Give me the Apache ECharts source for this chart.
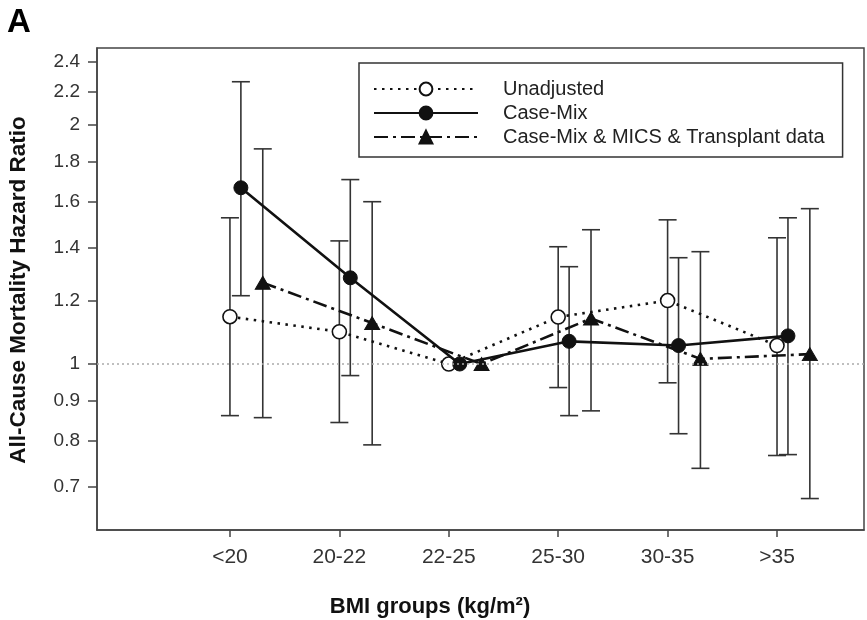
<!DOCTYPE html>
<html>
<head>
<meta charset="utf-8">
<script src="https://cdn.jsdelivr.net/npm/echarts@6/dist/echarts.min.js"></script>
<style>
  html, body { margin: 0; padding: 0; background: #fff; }
  #chart { width: 867px; height: 620px; }
</style>
</head>
<body>
<div id="chart"></div>
<script>
// BMI groups on the x axis
const categories = ['<20', '20-22', '22-25', '25-30', '30-35', '>35'];

// Hazard ratio tick labels (log scale)
const yTicks = [0.7, 0.8, 0.9, 1, 1.2, 1.4, 1.6, 1.8, 2, 2.2, 2.4];

// Reference hazard ratio
const refLine = 1;

// Series names
const seriesNames = ['Unadjusted', 'Case-Mix', 'Case-Mix & MICS & Transplant data'];

// Unadjusted: hazard ratio with 95% CI
const unadj   = [1.147, 1.098, 1.0, 1.146, 1.202, 1.055];
const unadjLo = [0.861, 0.844, null, 0.934, 0.947, 0.767];
const unadjHi = [1.528, 1.429, null, 1.405, 1.519, 1.442];

// Case-mix adjusted
const caseMix   = [1.667, 1.284, 1.0, 1.068, 1.055, 1.085];
const caseMixLo = [1.219, 0.967, null, 0.861, 0.817, 0.769];
const caseMixHi = [2.267, 1.707, null, 1.326, 1.361, 1.528];

// Case-mix + MICS + transplant adjusted
const full   = [1.266, 1.126, 1.0, 1.141, 1.015, 1.029];
const fullLo = [0.856, 0.791, null, 0.873, 0.739, 0.677];
const fullHi = [1.866, 1.601, null, 1.476, 1.385, 1.569];

// Horizontal shift of each series within a group (in category units)
const shift = [0, 0.1, 0.3];

const FONT = '"Liberation Sans", Arial, Helvetica, sans-serif';
const INK = '#111';

function points(values, dx) {
  return values.map((v, i) => [i + dx, v]);
}
function bars(lo, hi, dx) {
  const out = [];
  lo.forEach((l, i) => { if (l != null && hi[i] != null) out.push([i + dx, l, hi[i]]); });
  return out;
}

// Vertical confidence-interval bar with end caps
function errorBarItem(params, api) {
  const x = api.value(0);
  const bot = api.coord([x, api.value(1)]);
  const top = api.coord([x, api.value(2)]);
  const hw = 9;
  const style = { stroke: '#333', lineWidth: 1.6 };
  return {
    type: 'group',
    children: [
      { type: 'line', shape: { x1: top[0], y1: top[1], x2: bot[0], y2: bot[1] }, style },
      { type: 'line', shape: { x1: top[0] - hw, y1: top[1], x2: top[0] + hw, y2: top[1] }, style },
      { type: 'line', shape: { x1: bot[0] - hw, y1: bot[1], x2: bot[0] + hw, y2: bot[1] }, style }
    ]
  };
}

function errorSeries(lo, hi, dx) {
  return {
    type: 'custom',
    renderItem: errorBarItem,
    data: bars(lo, hi, dx),
    encode: { x: 0, y: [1, 2] },
    z: 1,
    silent: true
  };
}

const chart = echarts.init(document.getElementById('chart'), null, { renderer: 'canvas' });

chart.setOption({
  animation: false,
  backgroundColor: '#fff',
  textStyle: { fontFamily: FONT },
  grid: {
    left: 97, right: 3, top: 48, bottom: 90,
    show: true, borderColor: '#444', borderWidth: 1.5, backgroundColor: 'transparent'
  },
  legend: {
    orient: 'vertical',
    left: 359, top: 63,
    data: seriesNames,
    itemWidth: 104, itemHeight: 16, itemGap: 4,
    padding: [16, 18, 10, 14],
    borderColor: '#333', borderWidth: 1.5, backgroundColor: '#fff',
    selectedMode: false,
    textStyle: { fontSize: 20, color: '#222', fontFamily: FONT, padding: [0, 0, 0, 20] }
  },
  xAxis: {
    type: 'value',
    min: -1.215, max: 5.795,
    axisLine: { show: true, onZero: false, lineStyle: { color: '#444', width: 1.5 } },
    axisTick: { show: true, length: 7, customValues: categories.map((c, i) => i), lineStyle: { color: '#444', width: 1.5 } },
    axisLabel: {
      customValues: categories.map((c, i) => i),
      formatter: v => categories[Math.round(v)],
      margin: 17, fontSize: 21, color: '#333', fontFamily: FONT
    },
    splitLine: { show: false }
  },
  yAxis: {
    type: 'log', logBase: 10,
    min: 0.618, max: 2.5,
    axisLine: { show: true, onZero: false, lineStyle: { color: '#444', width: 1.5 } },
    axisTick: { show: true, length: 9, customValues: yTicks, lineStyle: { color: '#444', width: 1.5 } },
    axisLabel: {
      customValues: yTicks,
      formatter: v => String(+Number(v).toFixed(2)),
      margin: 17, fontSize: 19, color: '#333', fontFamily: FONT
    },
    splitLine: { show: false }
  },
  graphic: [
    { type: 'text', left: 7, top: 6, style: { text: 'A', font: 'bold 33px ' + FONT, fill: '#000' } },
    {
      type: 'text', x: 19, y: 290, rotation: Math.PI / 2,
      style: { text: 'All-Cause Mortality Hazard Ratio', font: 'bold 22.5px ' + FONT, fill: '#111', align: 'center', verticalAlign: 'middle' }
    },
    {
      type: 'text', x: 430, y: 607,
      style: { text: 'BMI groups (kg/m²)', font: 'bold 22px ' + FONT, fill: '#111', align: 'center', verticalAlign: 'middle' }
    }
  ],
  series: [
    errorSeries(unadjLo, unadjHi, shift[0]),
    errorSeries(caseMixLo, caseMixHi, shift[1]),
    errorSeries(fullLo, fullHi, shift[2]),
    {
      name: seriesNames[0], type: 'line', z: 3,
      data: points(unadj, shift[0]),
      symbol: 'circle', symbolSize: 14,
      lineStyle: { color: INK, width: 2.6, type: [2.5, 5.5] },
      itemStyle: { color: '#fff', borderColor: INK, borderWidth: 1.6 },
      markLine: {
        silent: true, symbol: 'none', label: { show: false },
        lineStyle: { color: '#aaa', width: 1.5, type: [2, 3] },
        data: [{ yAxis: refLine }]
      }
    },
    {
      name: seriesNames[1], type: 'line', z: 4,
      data: points(caseMix, shift[1]),
      symbol: 'circle', symbolSize: 14,
      lineStyle: { color: INK, width: 2.6 },
      itemStyle: { color: INK, borderColor: INK, borderWidth: 1 }
    },
    {
      name: seriesNames[2], type: 'line', z: 3,
      data: points(full, shift[2]),
      symbol: 'triangle', symbolSize: [15, 13],
      lineStyle: { color: INK, width: 2.6, type: [14, 5, 3, 5] },
      itemStyle: { color: INK, borderColor: INK, borderWidth: 1 }
    }
  ]
});
</script>
</body>
</html>
